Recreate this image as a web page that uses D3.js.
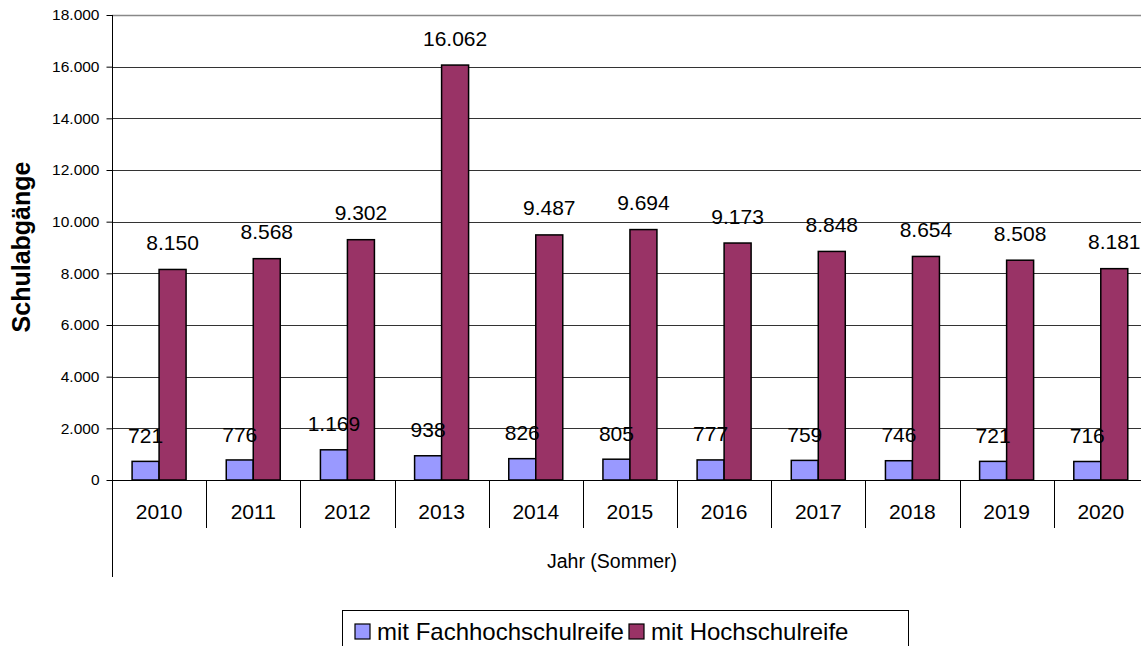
<!DOCTYPE html>
<html>
<head>
<meta charset="utf-8">
<script src="https://cdn.jsdelivr.net/npm/d3@7"></script>
<style>
  body { margin: 0; background: #fff; overflow: hidden; }
  svg { display: block; font-family: Arial, "Liberation Sans", sans-serif; }
</style>
</head>
<body>
<div id="chart"></div>
<script>
// data
var years = ["2010", "2011", "2012", "2013", "2014", "2015", "2016", "2017", "2018", "2019", "2020"];
var fachhochschulreife = [721, 776, 1169, 938, 826, 805, 777, 759, 746, 721, 716];
var hochschulreife = [8150, 8568, 9302, 16062, 9487, 9694, 9173, 8848, 8654, 8508, 8181];
var seriesNames = ["mit Fachhochschulreife", "mit Hochschulreife"];
var seriesColors = ["#9999ff", "#993366"];
var yTicks = [0, 2000, 4000, 6000, 8000, 10000, 12000, 14000, 16000, 18000];

var W = 1141, H = 646;
var plotLeft = 112, plotTop = 15, plotBottom = 480, step = 94.17;

var fmt = d => d3.format(",")(d).replace(/,/g, ".");

var svg = d3.select("#chart").append("svg")
    .attr("width", W)
    .attr("height", H);

// scales
var x0 = d3.scaleBand()
    .domain(years)
    .range([plotLeft, plotLeft + step * years.length])
    .padding(0);

var x1 = d3.scaleBand()
    .domain([0, 1])
    .range([0, x0.bandwidth()])
    .paddingInner(0)
    .paddingOuter(0.744);

var y = d3.scaleLinear()
    .domain([0, 18000])
    .range([plotBottom, plotTop]);

var rows = years.map((yr, i) => ({year: yr, vals: [fachhochschulreife[i], hochschulreife[i]]}));

// gridlines
svg.append("g")
    .selectAll("line")
    .data(yTicks.filter(d => d > 0))
    .enter()
    .append("line")
    .attr("x1", plotLeft)
    .attr("x2", W)
    .attr("y1", d => Math.round(y(d)) + 0.5)
    .attr("y2", d => Math.round(y(d)) + 0.5)
    .attr("stroke", d => d == 18000 ? "#888" : "#333")
    .attr("stroke-width", d => d == 18000 ? 1.5 : 1);

// y axis
var yAxis = svg.append("g")
    .attr("transform", "translate(" + (plotLeft + 0.5) + ",0)")
    .call(d3.axisLeft(y)
        .tickValues(yTicks)
        .tickSize(6)
        .tickPadding(7)
        .tickFormat(fmt));
yAxis.select(".domain").remove();
yAxis.selectAll("text")
    .attr("font-size", "15.5px")
    .attr("fill", "#000")
    .style("font-family", "Arial, 'Liberation Sans', sans-serif");
yAxis.selectAll("line").attr("stroke", "#000");

// left axis line, runs down past the category box
svg.append("line")
    .attr("x1", plotLeft + 0.5).attr("x2", plotLeft + 0.5)
    .attr("y1", plotTop).attr("y2", 577)
    .attr("stroke", "#000");

// bars
var groups = svg.selectAll(".yr")
    .data(rows)
    .enter()
    .append("g")
    .attr("class", "yr")
    .attr("transform", d => "translate(" + x0(d.year) + ",0)");

groups.selectAll("rect")
    .data(d => d.vals.map((v, j) => ({v: v, j: j})))
    .enter()
    .append("rect")
    .attr("x", d => x1(d.j))
    .attr("y", d => y(d.v))
    .attr("width", x1.bandwidth())
    .attr("height", d => plotBottom - y(d.v))
    .attr("fill", d => seriesColors[d.j])
    .attr("stroke", "#000")
    .attr("stroke-width", 1.5);

// value labels
groups.selectAll("text")
    .data(d => d.vals.map((v, j) => ({v: v, j: j})))
    .enter()
    .append("text")
    .attr("x", d => x1(d.j) + x1.bandwidth() / 2)
    .attr("y", d => y(d.v) - (d.j == 0 ? 26 : 27))
    .attr("dy", "0.36em")
    .attr("text-anchor", "middle")
    .attr("font-size", "21px")
    .attr("fill", "#000")
    .text(d => fmt(d.v));

// category axis with boxes
svg.append("line")
    .attr("x1", plotLeft).attr("x2", W)
    .attr("y1", plotBottom + 0.5).attr("y2", plotBottom + 0.5)
    .attr("stroke", "#000");

svg.append("g")
    .selectAll("line")
    .data(years.slice(1))
    .enter()
    .append("line")
    .attr("x1", d => Math.round(x0(d)) + 0.5)
    .attr("x2", d => Math.round(x0(d)) + 0.5)
    .attr("y1", plotBottom)
    .attr("y2", 528)
    .attr("stroke", "#000");

svg.append("g")
    .selectAll("text")
    .data(years)
    .enter()
    .append("text")
    .attr("x", d => x0(d) + x0.bandwidth() / 2)
    .attr("y", 519)
    .attr("text-anchor", "middle")
    .attr("font-size", "21px")
    .text(d => d);

// axis titles
svg.append("text")
    .attr("x", 612)
    .attr("y", 568)
    .attr("text-anchor", "middle")
    .attr("font-size", "19.5px")
    .text("Jahr (Sommer)");

svg.append("text")
    .attr("transform", "translate(30,247) rotate(-90)")
    .attr("text-anchor", "middle")
    .attr("font-size", "25px")
    .attr("font-weight", "bold")
    .text("Schulabgänge");

// legend
var legend = svg.append("g");
legend.append("rect")
    .attr("x", 342.5).attr("y", 610.5)
    .attr("width", 566).attr("height", 60)
    .attr("fill", "#fff")
    .attr("stroke", "#000");

var legendX = [355, 629];
seriesNames.forEach(function(name, i) {
    legend.append("rect")
        .attr("x", legendX[i]).attr("y", 624)
        .attr("width", 15).attr("height", 15)
        .attr("fill", seriesColors[i])
        .attr("stroke", "#000")
        .attr("stroke-width", 1.2);
    legend.append("text")
        .attr("x", legendX[i] + 22)
        .attr("y", 640)
        .attr("font-size", "24px")
        .text(name);
});
</script>
</body>
</html>
